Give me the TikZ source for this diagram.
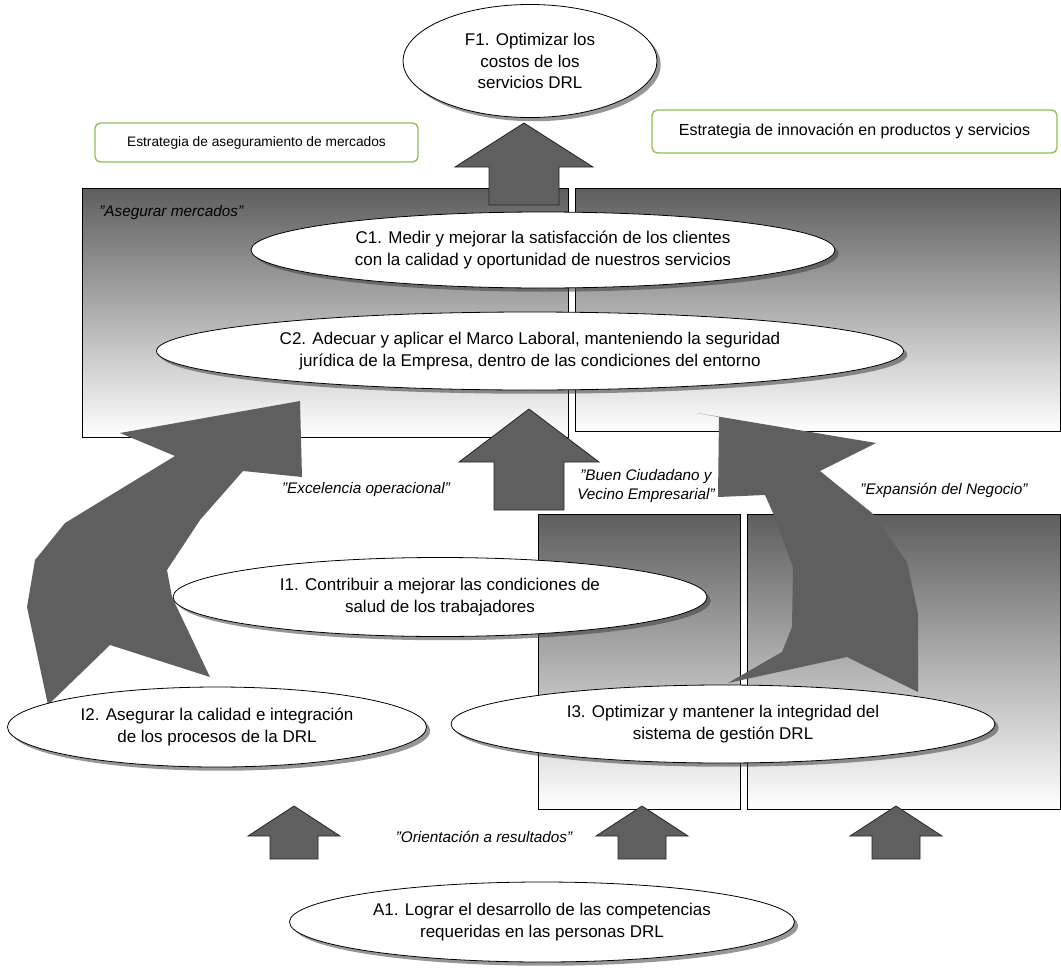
\documentclass[tikz,border=0pt]{standalone}
\usepackage{fontspec}
\setmainfont{Liberation Sans}
\usetikzlibrary{shapes.geometric,shadows}

\definecolor{regiondark}{HTML}{5E5E5E}
\definecolor{arrowgray}{HTML}{5F5F5F}
\definecolor{framegreen}{HTML}{92BD52}

% Straight block arrow pointing up:
% #1 centre x, #2 tip y, #3 head base y, #4 tail y, #5 head half width, #6 shaft half width
\newcommand\blockup[6]{%
  \filldraw[blockarrow] ({#1-#5},#3) -- (#1,#2) -- ({#1+#5},#3) -- ({#1+#6},#3)
    -- ({#1+#6},#4) -- ({#1-#6},#4) -- ({#1-#6},#3) -- cycle;}

\begin{document}
\begin{tikzpicture}[x=0.75pt,y=-0.75pt,
  goal/.style={ellipse, draw=black, line width=0.6pt, fill=white, inner sep=0pt,
    align=center, font=\fontsize{12.75pt}{16.3pt}\selectfont,
    drop shadow={shadow xshift=2.8pt, shadow yshift=-2.8pt, opacity=0.55, fill=black!75}},
  strategy/.style={draw=framegreen, line width=1pt, rounded corners=4pt, fill=white,
    inner sep=0pt},
  region/.style={draw=black, line width=0.7pt, top color=regiondark, bottom color=white},
  blockarrow/.style={fill=arrowgray, draw=black!85, line width=0.6pt},
  bendarrow/.style={fill=arrowgray},
  theme/.style={font=\fontsize{11.5pt}{14.6pt}\selectfont\itshape, align=center, inner sep=0pt}]

\useasboundingbox (0,0) rectangle (1061,968);

% perspective regions
\draw[region] (82,188) rectangle (568,437);
\draw[region] (575,188) rectangle (1060,431);
\draw[region] (538,514) rectangle (740,809);
\draw[region] (747,514) rectangle (1060,809);

% straight block arrows
\blockup{524}{123}{167}{205}{69}{35}
\blockup{529}{409}{462}{510}{70}{35}
\blockup{294}{806}{836}{859}{46}{24}
\blockup{642}{806}{836}{859}{46}{24}
\blockup{896}{806}{836}{859}{46}{24}

% bent arrow from I2 towards the market region
\fill[bendarrow] (48,705) -- (27,607) -- (35,560) -- (65,523) -- (175,456) -- (120,433)
  -- (300,401) -- (302,477) -- (243,471) -- (200,520) -- (167,570) -- (172,597)
  -- (210,677) -- (110,645) -- cycle;

% bent arrow from I3 towards the innovation region
\fill[bendarrow] (697,413) -- (876,443) -- (820,471) -- (872,513) -- (907,562)
  -- (918,613) -- (918,692) -- (847,657) -- (728,683) -- (782,652) -- (792,627)
  -- (793,567) -- (773,513) -- (765,495) -- (718,497) -- (719,417) -- cycle;

% strategy labels
\node[strategy, minimum width=242.25pt, minimum height=29.25pt,
  font=\fontsize{10.3pt}{12pt}\selectfont] (s1) at (256.5,142.5)
  {Estrategia de aseguramiento de mercados};
\node[strategy, minimum width=303.75pt, minimum height=32.25pt,
  font=\fontsize{12pt}{14pt}\selectfont] (s2) at (854.5,131.5)
  {Estrategia de innovación en productos y servicios};

% objectives
\node[goal, minimum width=190.5pt, minimum height=84.75pt] (f1) at (530,61)
  {F1. Optimizar los\\costos de los\\servicios DRL};
\node[goal, minimum width=438pt, minimum height=57pt] (c1) at (543,250)
  {C1. Medir y mejorar la satisfacción de los clientes\\con la calidad y oportunidad de nuestros servicios};
\node[goal, minimum width=560.25pt, minimum height=58.5pt] (c2) at (530,351)
  {C2. Adecuar y aplicar el Marco Laboral, manteniendo la seguridad\\jurídica de la Empresa, dentro de las condiciones del entorno};
\node[goal, minimum width=400.5pt, minimum height=59.25pt] (i1) at (440,597)
  {I1. Contribuir a mejorar las condiciones de\\salud de los trabajadores};
\node[goal, minimum width=314.25pt, minimum height=60pt] (i2) at (217,727)
  {I2. Asegurar la calidad e integración\\de los procesos de la DRL};
\node[goal, minimum width=408pt, minimum height=58.5pt] (i3) at (723,724)
  {I3. Optimizar y mantener la integridad del\\sistema de gestión DRL};
\node[goal, minimum width=378.75pt, minimum height=60pt] (a1) at (542,922)
  {A1. Lograr el desarrollo de las competencias\\requeridas en las personas DRL};

% themes
\node[theme, anchor=west] (tm) at (99,213) {"Asegurar mercados"};
\node[theme] (te) at (366,490) {"Excelencia operacional"};
\node[theme] (tb) at (646,486) {"Buen Ciudadano y\\Vecino Empresarial"};
\node[theme] (tx) at (944,490) {"Expansión del Negocio"};
\node[theme] (to) at (484,837) {"Orientación a resultados"};

\end{tikzpicture}
\end{document}
